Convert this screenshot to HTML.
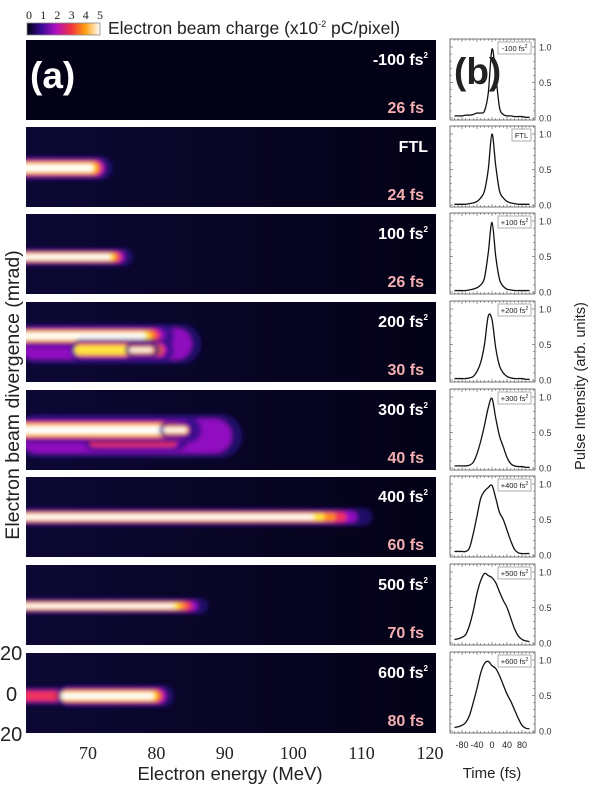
<!DOCTYPE html>
<html><head><meta charset="utf-8">
<style>
html,body{margin:0;padding:0;background:#fff;}
svg{display:block;font-family:"Liberation Sans",sans-serif;}
</style></head>
<body>
<svg id="fig" width="604" height="789" viewBox="0 0 604 789" xmlns="http://www.w3.org/2000/svg">
<defs>
  <filter id="blur" x="-30%" y="-100%" width="160%" height="300%"><feGaussianBlur stdDeviation="2"/></filter>
  <linearGradient id="cbar" x1="0" x2="1" y1="0" y2="0">
    <stop offset="0" stop-color="#000010"/><stop offset="0.2" stop-color="#3a0a9a"/>
    <stop offset="0.4" stop-color="#b010c0"/><stop offset="0.6" stop-color="#f03040"/>
    <stop offset="0.8" stop-color="#ffa010"/><stop offset="1" stop-color="#ffffff"/>
  </linearGradient>
  <linearGradient id="bg" x1="0" x2="1" y1="0" y2="0">
    <stop offset="0" stop-color="#0c0834"/><stop offset="1" stop-color="#040216"/>
  </linearGradient>
</defs>
<g id="colorbar">
  <rect x="27" y="23" width="73" height="12" fill="url(#cbar)" stroke="#888" stroke-width="0.8"/>
</g>
<g id="cbticks" font-family="Liberation Serif, serif" font-size="12" fill="#222"></g>
<text x="108" y="34" font-size="17.5" fill="#222">Electron beam charge (x10<tspan dy="-7" font-size="9">-2</tspan><tspan dy="7"> pC/pixel)</tspan></text>
<g id="left"></g>
<g id="right"></g>
<text x="30" y="88" font-size="37" font-weight="bold" fill="#fff">(a)</text>
<text x="454" y="84" font-size="37" font-weight="bold" fill="#222">(b)</text>
<text transform="translate(19,395) rotate(-90)" text-anchor="middle" font-size="19.5" fill="#222">Electron beam divergence (mrad)</text>
<text transform="translate(585,386) rotate(-90)" text-anchor="middle" font-size="14.5" fill="#222">Pulse Intensity (arb. units)</text>
<g font-size="20" fill="#222">
  <text x="0" y="660">20</text><text x="6" y="701">0</text><text x="0" y="741">20</text>
</g>
<g id="eticks" font-family="Liberation Serif, serif" font-size="18" fill="#222" text-anchor="middle"></g>
<text x="230" y="780" text-anchor="middle" font-size="18.5" fill="#222">Electron energy (MeV)</text>
<g id="tticks" font-size="9" fill="#222" text-anchor="middle"></g>
<text x="492" y="778" text-anchor="middle" font-size="15" fill="#222">Time (fs)</text>
</svg>
<script>
const NS="http://www.w3.org/2000/svg";
const rowTops=[40,127,214,302,390,477,565,653];
const rowH=80;
const chirps=["-100 fs","FTL","100 fs","200 fs","300 fs","400 fs","500 fs","600 fs"];
const chirpSup=[true,false,true,true,true,true,true,true];
const durations=["26 fs","24 fs","26 fs","30 fs","40 fs","60 fs","70 fs","80 fs"];
const legendLabels=["-100 fs","FTL","+100 fs","+200 fs","+300 fs","+400 fs","+500 fs","+600 fs"];
const energyTicks=[70,80,90,100,110,120];
const timeTicks=[-80,-40,0,40,80];
const colorTicks=[0,1,2,3,4,5];
const times=[-100,-90,-80,-70,-60,-50,-40,-30,-20,-10,0,10,20,30,40,50,60,70,80,90,100];
const pulse0=[.03,.03,.03,.04,.04,.05,.07,.07,.1,.35,.97,.6,.15,.05,.03,.03,.02,.02,.02,.01,.01];
const pulse1=[.01,.01,.01,.01,.02,.03,.05,.1,.2,.5,1,.55,.2,.1,.05,.03,.02,.01,.01,.01,.01];
const pulse2=[.02,.02,.02,.02,.03,.04,.06,.1,.2,.55,.98,.5,.18,.08,.04,.03,.02,.02,.02,.02,.02];
const pulse3=[.02,.02,.02,.02,.03,.05,.12,.25,.5,.9,.85,.45,.2,.1,.05,.03,.02,.02,.02,.01,.01];
const pulse4=[.03,.03,.03,.03,.04,.08,.2,.38,.6,.85,.98,.7,.45,.3,.15,.06,.03,.02,.02,.01,.01];
const pulse5=[.05,.05,.05,.05,.1,.3,.55,.8,.9,.95,.98,.8,.6,.5,.35,.2,.08,.03,.02,.02,.02];
const pulse6=[.05,.06,.08,.12,.25,.45,.7,.88,.98,.95,.92,.85,.72,.6,.5,.35,.2,.1,.05,.03,.02];
const pulse7=[.05,.06,.08,.12,.22,.4,.6,.82,.95,.98,.92,.88,.78,.65,.52,.42,.3,.18,.08,.04,.03];
const pulses=[pulse0,pulse1,pulse2,pulse3,pulse4,pulse5,pulse6,pulse7];
// beams: [startMeV, endMeV, centerOffset, halfHeight, level]
const beams0=[];
const beams1=[[58,73,41,10,5]];
const beams2=[[58,76,43,7,5]];
const beams3=[[60,86,42,18,1],[58,82,34,9,5],[68,82,48,9,4],[76,80,48,5,5]];
const beams4=[[60,92,46,20,1],[70,84,50,9,2],[58,86,40,11,5],[81,85,40,6,5]];
const beams5=[[58,111,40,7,5]];
const beams6=[[58,87,41,6,5]];
const beams7=[[58,68,43,7,2],[66,82,43,9,5]];
const beamSets=[beams0,beams1,beams2,beams3,beams4,beams5,beams6,beams7];

const LX0=26,LX1=436,RX0=450,RX1=535;
const ex=e=>88+(e-70)*6.84;
const tx=t=>492+t*0.375;
const vy=(top,v)=>top+78-v*71;
const cols=["#2a0c80","#9010c0","#f0305a","#ff8a10","#ffe840","#ffffff"];
function mk(tag,attrs,parent){const e=document.createElementNS(NS,tag);for(const k in attrs)e.setAttribute(k,attrs[k]);parent.appendChild(e);return e;}

const cbt=document.getElementById('cbticks');
colorTicks.forEach(v=>{const t=mk('text',{x:29+v*14.2,y:19,'text-anchor':'middle'},cbt);t.textContent=v;

});

const left=document.getElementById('left'),right=document.getElementById('right');
rowTops.forEach((top,i)=>{
  const g=mk('g',{},left);
  
  
  const cp=mk('clipPath',{id:'cp'+i},g);mk('rect',{x:LX0,y:top,width:LX1-LX0,height:rowH},cp);
  mk('rect',{x:LX0,y:top,width:LX1-LX0,height:rowH,fill:i==0?'#030116':'url(#bg)'},g);
  const bg=mk('g',{'clip-path':'url(#cp'+i+')'},g);
  const inner=mk('g',{filter:'url(#blur)'},bg);
  beamSets[i].forEach(b=>{
    const [e1,e2,cy,hh,lv]=b;
    for(let j=0;j<=lv;j++){
      const f=1-0.13*j;
      const h=Math.max(1.5,hh*f+(j==0?2:0));
      const x1=ex(e1)-(j==0?4:0), x2=ex(e2)-(j*(ex(e2)-ex(e1))*0.03)+(j==0?4:0);
      const r=mk('rect',{x:x1,y:top+cy-h,width:Math.max(2,x2-x1),height:2*h,rx:h,ry:h,fill:cols[j],'fill-opacity':j==0?0.75:1},inner);
      
      
    }
  });
  const l1=mk('text',{x:428,y:top+25,'text-anchor':'end','font-size':16,'font-weight':'bold',fill:'#fff'},g);
  l1.textContent=chirps[i];
  if(chirpSup[i]){const s=mk('tspan',{dy:-7,'font-size':8},l1);s.textContent='2';}
  
  
  const l2=mk('text',{x:424,y:top+73,'text-anchor':'end','font-size':16,'font-weight':'bold',fill:'#f4b0b0'},g);
  l2.textContent=durations[i];
  
  

  const r=mk('g',{},right);
  
  
  mk('rect',{x:RX0,y:top-1,width:RX1-RX0,height:rowH+1,fill:'#fff',stroke:'#555','stroke-width':0.8},r);
  for(let t=-100;t<=110;t+=10){const x=tx(t);if(x>RX1)break;const L=t%40==0?3:1.8;
    mk('line',{x1:x,x2:x,y1:top+rowH,y2:top+rowH-L,stroke:'#555','stroke-width':0.6},r);
    mk('line',{x1:x,x2:x,y1:top-1,y2:top-1+L,stroke:'#555','stroke-width':0.6},r);}
  for(let v=0;v<=1.0001;v+=0.1){const y=vy(top,v);const L=Math.abs(v*2-Math.round(v*2))<0.01?3:1.8;
    mk('line',{x1:RX1,x2:RX1-L,y1:y,y2:y,stroke:'#555','stroke-width':0.6},r);
    mk('line',{x1:RX0,x2:RX0+L,y1:y,y2:y,stroke:'#555','stroke-width':0.6},r);}
  [[1,'1.0'],[0.5,'0.5'],[0,'0.0']].forEach(([v,s])=>{const t=mk('text',{x:539,y:vy(top,v)+3.5,'font-size':9,fill:'#333'},r);t.textContent=s;
    
    });
  const d=pulses[i];const pts=times.map((t,k)=>[tx(t),vy(top,d[k])]);
  let p='M'+pts[0][0]+','+pts[0][1];
  for(let k=0;k<pts.length-1;k++){const p0=pts[Math.max(0,k-1)],p1=pts[k],p2=pts[k+1],p3=pts[Math.min(pts.length-1,k+2)];
    p+=' C'+(p1[0]+(p2[0]-p0[0])/6)+','+(p1[1]+(p2[1]-p0[1])/6)+' '+(p2[0]-(p3[0]-p1[0])/6)+','+(p2[1]-(p3[1]-p1[1])/6)+' '+p2[0]+','+p2[1];}
  const path=mk('path',{d:p,fill:'none',stroke:'#111','stroke-width':1.3},r);
  
  
  const lg=mk('g',{},r);
  
  
  const w=i==1?19:33;
  mk('rect',{x:531-w,y:top+2,width:w,height:12,fill:'#fff',stroke:'#999','stroke-width':0.8},lg);
  const lt=mk('text',{x:531-w/2,y:top+11,'text-anchor':'middle','font-size':7.5,fill:'#222'},lg);
  lt.textContent=legendLabels[i];
  if(chirpSup[i]){const s=mk('tspan',{dy:-3,'font-size':5},lt);s.textContent='2';}
});

const et=document.getElementById('eticks');
energyTicks.forEach(e=>{const t=mk('text',{x:ex(e),y:759},et);t.textContent=e;

});
const tt=document.getElementById('tticks');
timeTicks.forEach(v=>{const t=mk('text',{x:tx(v),y:748},tt);t.textContent=v;

});
</script>
</body></html>
